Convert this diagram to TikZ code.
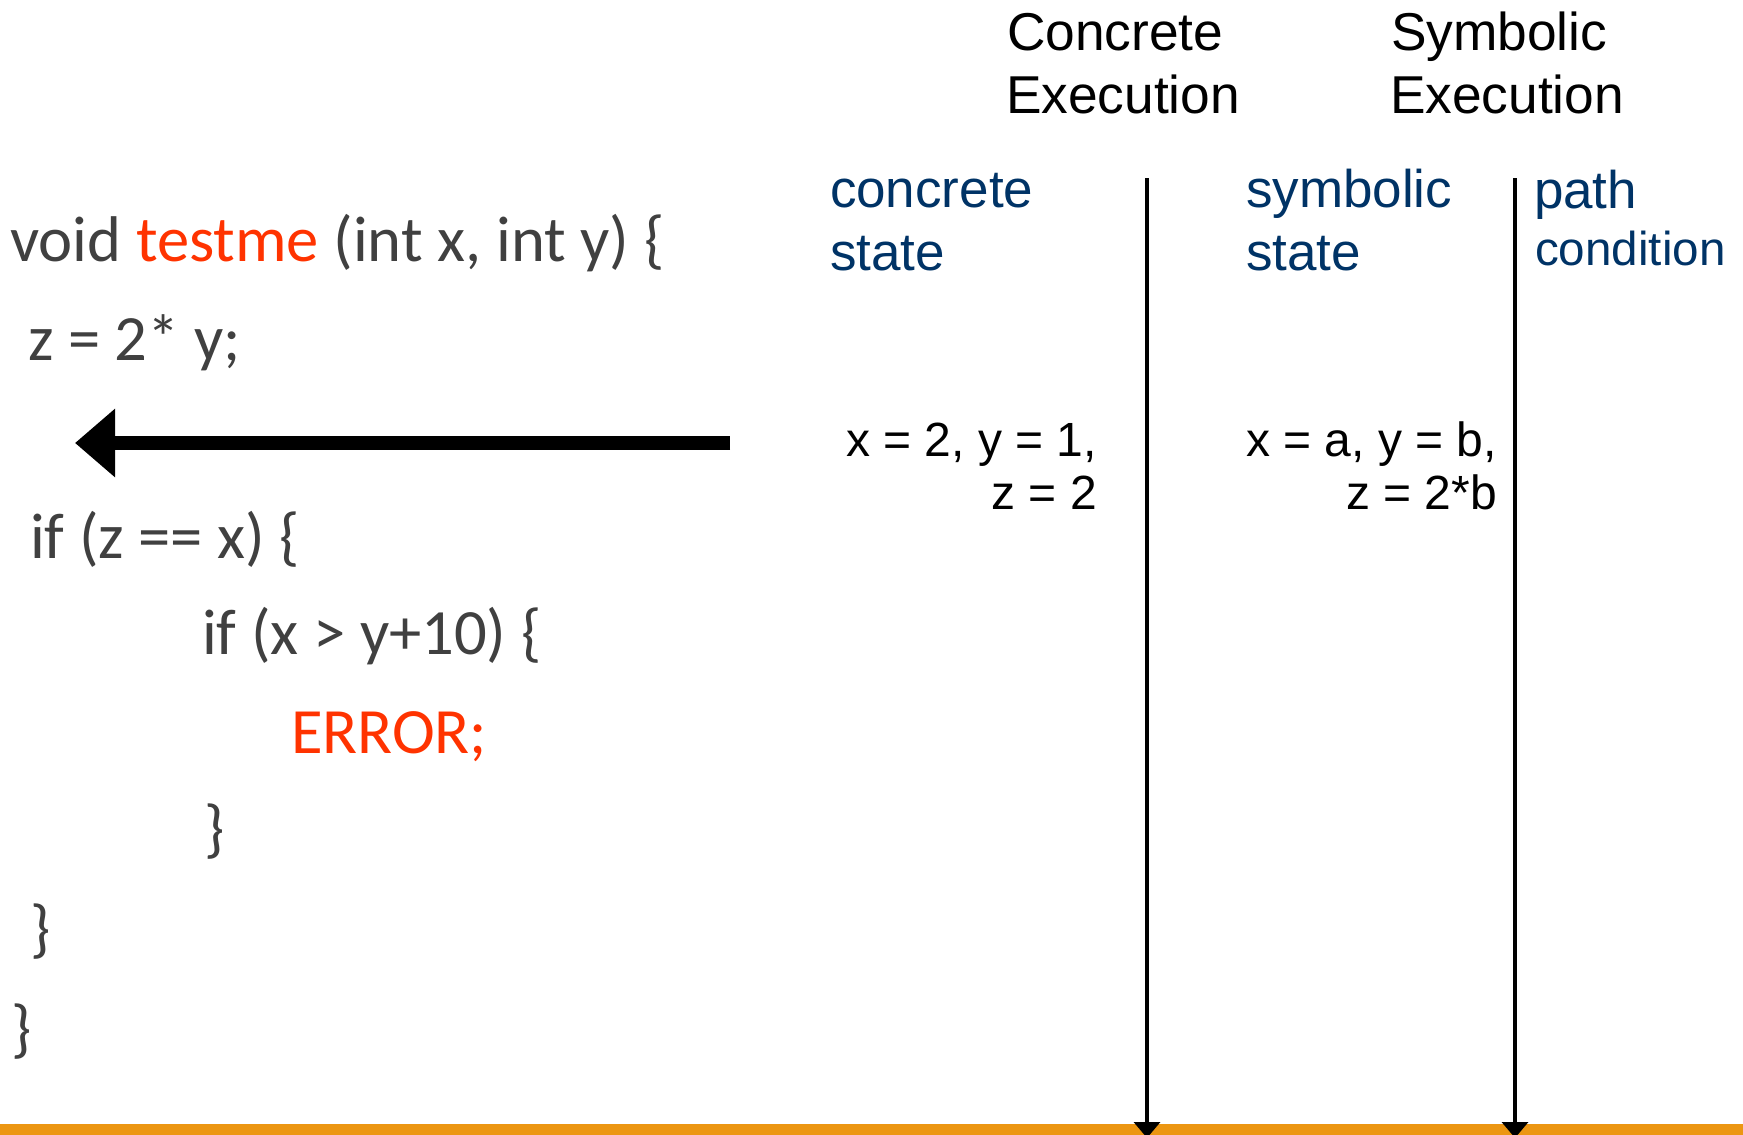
\documentclass[tikz,border=0pt]{standalone}
\usepackage{fontspec}
\setmainfont{Liberation Sans}
\newfontfamily\codefont{Carlito}
\usetikzlibrary{arrows.meta}
\definecolor{codegray}{HTML}{404040}
\definecolor{codered}{HTML}{FF3300}
\definecolor{stateblue}{HTML}{003366}
\definecolor{barorange}{HTML}{EC9612}
\begin{document}
\begin{tikzpicture}[x=1pt,y=-1pt,
  every node/.style={inner sep=0pt, outer sep=0pt},
  code/.style={font=\codefont\fontsize{64.6}{77}\selectfont, text=codegray, anchor=base west},
  head/.style={font=\fontsize{53.3}{63}\selectfont, text=black, anchor=base west},
  lbl/.style={font=\fontsize{53}{63}\selectfont, text=stateblue, anchor=base west},
  val/.style={font=\fontsize{48}{53}\selectfont, text=black, anchor=base east},
  timeline/.style={line width=3.5pt, -{Triangle[length=16pt,width=26pt]}},
  bigarrow/.style={line width=14pt, -{Triangle[length=40pt,width=66pt]}}
]
\useasboundingbox (0,0) rectangle (1743,1135);
\clip (0,0) rectangle (1743,1135);

% orange bar
\fill[barorange] (0,1124) rectangle (1743,1135);

% code
\node[code] (l1) at (10,261) {void \textcolor{codered}{testme} (int x, int y) \{};
\node[code] (l2) at (28,360) {z = 2* y;};
\node[code] (l3) at (30,558) {if (z == x) \{};
\node[code] (l4) at (202,654) {if (x > y+10) \{};
\node[code,text=codered] (l5) at (291,753) {ERROR;};
\node[code] (l6) at (204,850) {\}};
\node[code] (l7) at (30,950) {\}};
\node[code] (l8) at (12,1050) {\}};

% big arrow
\coordinate (astart) at (730,443);
\coordinate (aend) at (75,443);
\draw[bigarrow] (astart) -- (aend);

% headings
\node[head] (ch1) at (1007,50) {Concrete};
\node[head] (ch2) at (1006,113) {Execution};
\node[head] (sh1) at (1391,50) {Symbolic};
\node[head] (sh2) at (1390,113) {Execution};

% column labels
\node[lbl] (cs1) at (830,207) {concrete};
\node[lbl] (cs2) at (830,270) {state};
\node[lbl] (ss1) at (1246,207) {symbolic};
\node[lbl] (ss2) at (1246,270) {state};
\node[lbl,font=\fontsize{53}{63}\selectfont] (pc1) at (1534,208) {path};
\node[lbl,font=\fontsize{47.6}{56}\selectfont] (pc2) at (1535,265) {condition};

% values
\node[val] (cv1) at (1097,456) {x = 2, y = 1,};
\node[val] (cv2) at (1097,509) {z = 2};
\node[val] (sv1) at (1497,456) {x = a, y = b,};
\node[val] (sv2) at (1497,509) {z = 2*b};

% timelines
\coordinate (t1top) at (1147,178);
\coordinate (t1bot) at (1147,1138);
\coordinate (t2top) at (1515,178);
\coordinate (t2bot) at (1515,1138);
\draw[timeline] (t1top) -- (t1bot);
\draw[timeline] (t2top) -- (t2bot);
\end{tikzpicture}
\end{document}
